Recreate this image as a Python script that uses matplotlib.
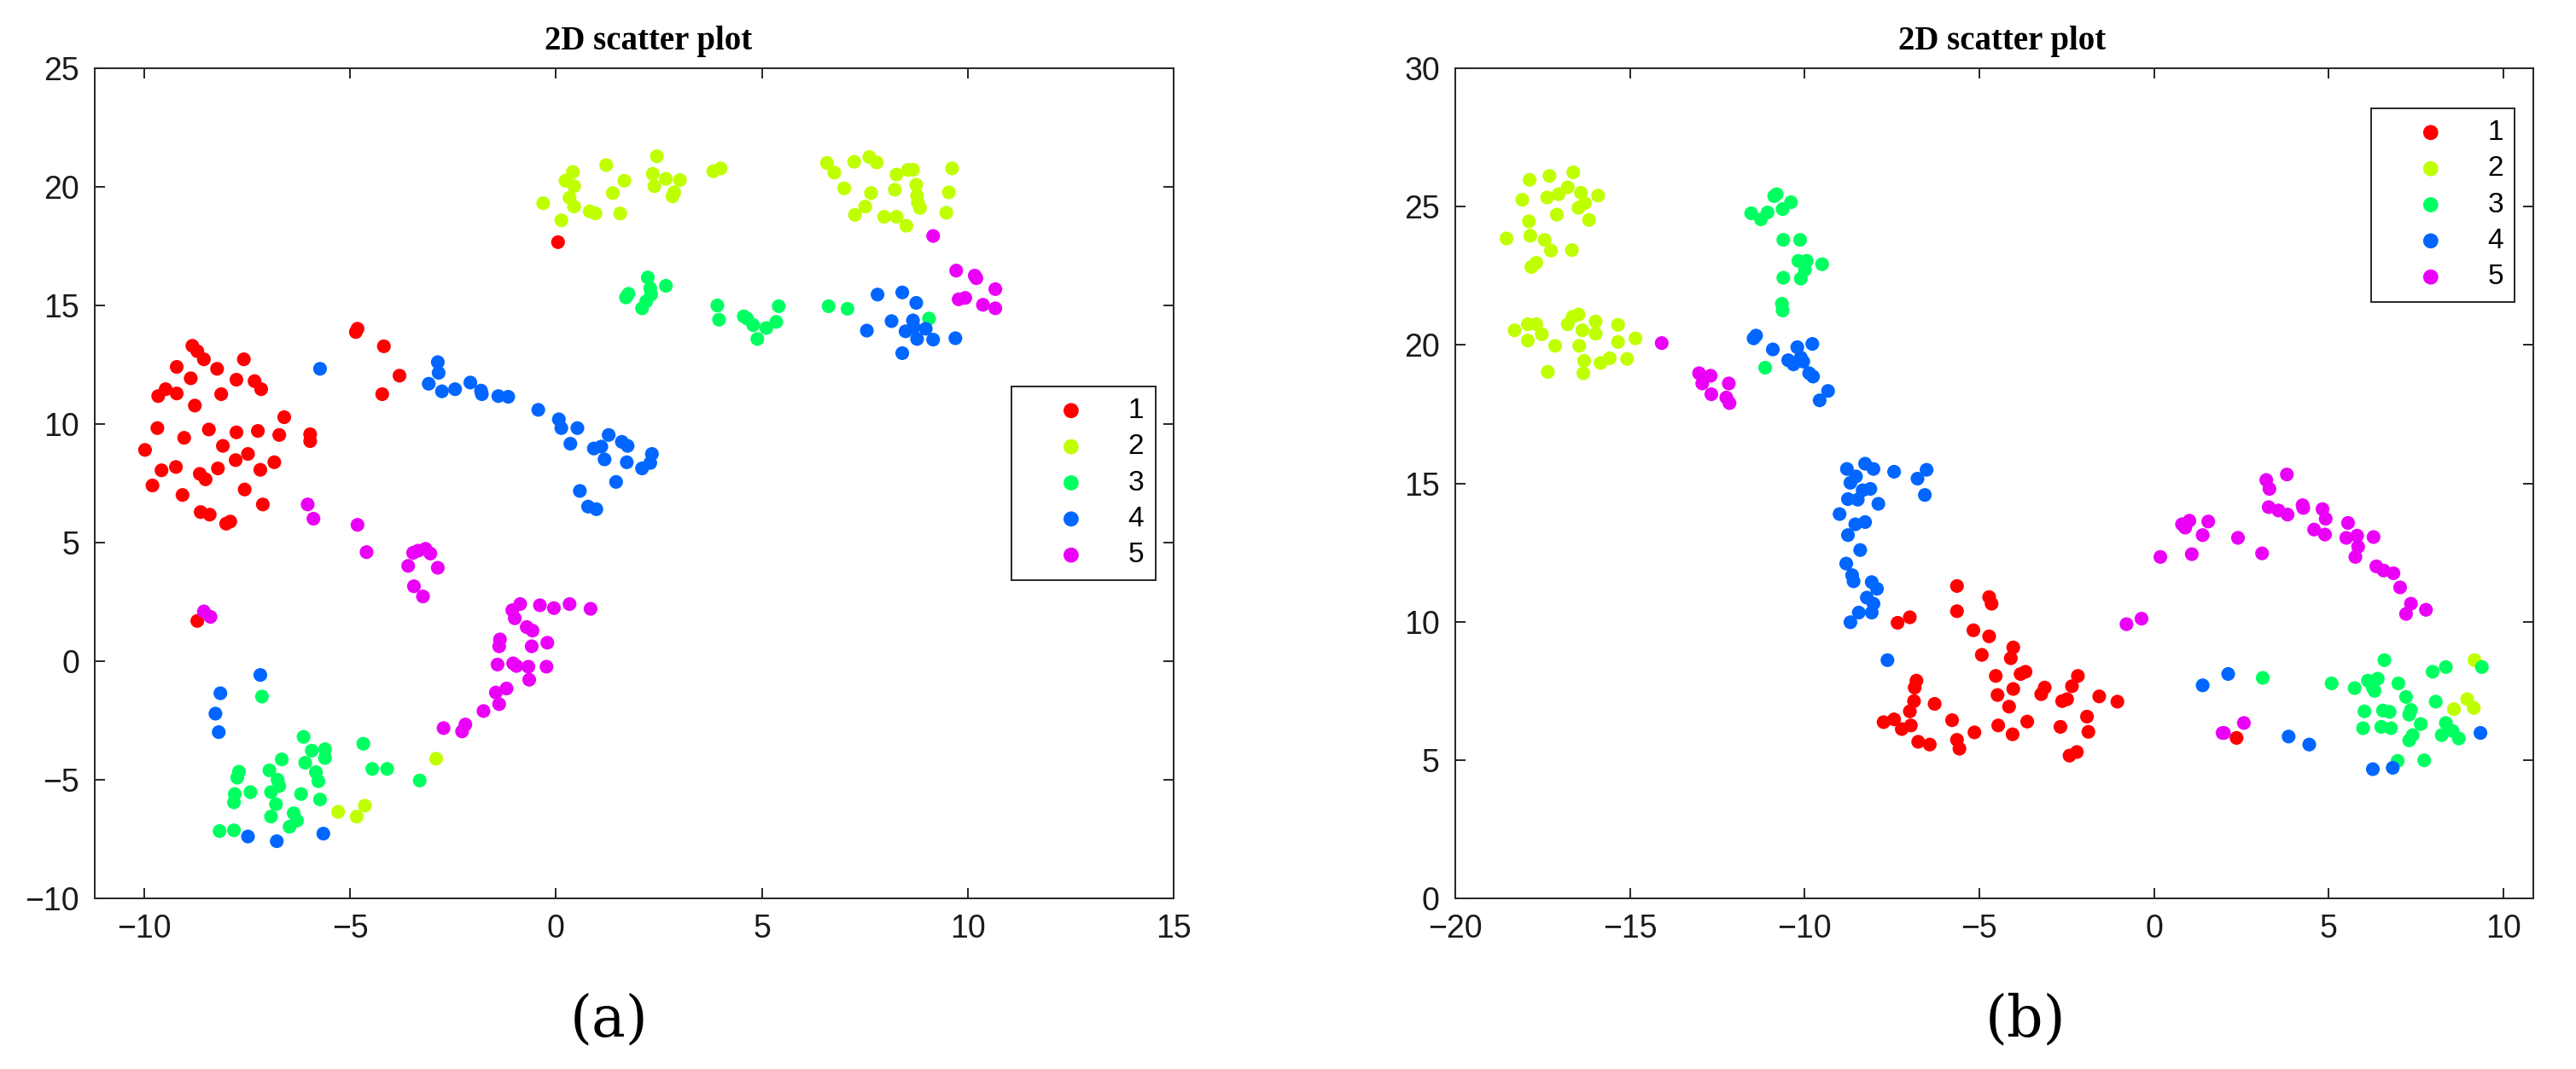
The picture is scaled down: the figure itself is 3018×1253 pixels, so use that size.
import numpy as np
import matplotlib
matplotlib.use('Agg')
import matplotlib.pyplot as plt

# cluster labels and colours (picked from the original figure)
labels = ['1', '2', '3', '4', '5']
colors = [(1, 0, 0), (0.75, 1, 0), (0, 1, 0.38), (0, 0.4, 1), (0.92, 0, 0.97)]

# ---- panel (a) points, one array of (x, y) per cluster ----
a1 = np.array([
    (-9.98, 8.91), (-9.80, 7.41), (-9.68, 9.83), (-9.66, 11.18), (-9.58, 8.05),
    (-9.48, 11.47), (-9.23, 8.19), (-9.21, 12.41), (-9.21, 11.29), (-9.07, 7.01),
    (-9.03, 9.42), (-8.87, 11.93), (-8.83, 13.30), (-8.77, 10.78), (-8.71, 13.07),
    (-8.65, 7.90), (-8.63, 6.29), (-8.55, 12.73), (-8.51, 7.67), (-8.43, 9.77),
    (-8.41, 6.18), (-8.23, 12.33), (-8.21, 8.13), (-8.13, 11.26), (-8.09, 9.08),
    (-8.01, 5.80), (-7.91, 5.89), (-7.78, 8.48), (-7.76, 9.65), (-7.76, 11.87),
    (-7.58, 12.73), (-7.56, 7.24), (-7.48, 8.74), (-7.32, 11.81), (-7.24, 9.71),
    (-7.18, 8.07), (-7.16, 11.47), (-7.12, 6.61), (-6.84, 8.39), (-6.72, 9.54),
    (-6.60, 10.29), (-5.97, 9.57), (-5.97, 9.28), (-4.86, 13.88), (-4.82, 14.02),
    (-4.18, 13.28), (-4.22, 11.26), (-3.80, 12.04), (0.05, 17.67), (-8.71, 1.70)])
a2 = np.array([
    (-0.31, 19.31), (0.13, 18.59), (0.23, 20.26), (0.33, 19.54), (0.41, 20.63),
    (0.44, 20.03), (0.44, 19.17), (0.82, 18.97), (0.96, 18.88), (1.22, 20.92),
    (1.38, 19.74), (1.56, 18.88), (1.66, 20.26), (2.35, 20.55), (2.39, 20.03),
    (2.45, 21.29), (2.67, 20.34), (2.83, 19.60), (2.87, 19.77), (3.01, 20.29),
    (3.82, 20.66), (4.00, 20.78), (6.58, 21.01), (6.76, 20.60), (7.00, 19.94),
    (7.24, 21.06), (7.26, 18.82), (7.51, 19.17), (7.61, 21.26), (7.65, 19.74),
    (7.79, 21.03), (7.97, 18.74), (8.23, 19.88), (8.27, 20.52), (8.27, 18.74),
    (8.51, 18.36), (8.55, 20.72), (8.67, 20.72), (8.75, 20.09), (8.77, 19.63),
    (8.79, 19.34), (8.84, 19.11), (9.48, 18.91), (9.54, 19.77), (9.62, 20.78),
    (-5.29, -6.35), (-4.84, -6.55), (-4.64, -6.09), (-2.91, -4.11)])
a3 = np.array([
    (1.70, 15.34), (1.76, 15.49), (2.09, 14.88), (2.19, 15.17), (2.23, 16.18),
    (2.29, 15.72), (2.31, 15.46), (2.67, 15.83), (3.92, 15.00), (3.96, 14.40),
    (4.56, 14.54), (4.64, 14.45), (4.79, 14.17), (4.89, 13.59), (5.11, 14.05),
    (5.35, 14.31), (5.41, 14.97), (6.62, 14.97), (7.08, 14.86), (9.06, 14.45),
    (-8.17, -7.16), (-7.82, -7.13), (-7.82, -5.95), (-7.80, -5.60), (-7.74, -4.91),
    (-7.70, -4.66), (-7.42, -5.52), (-6.96, -4.60), (-6.92, -5.52), (-6.92, -6.55),
    (-6.80, -6.03), (-6.76, -5.00), (-6.72, -5.26), (-6.66, -4.14), (-6.47, -6.98),
    (-6.37, -6.41), (-6.29, -6.72), (-6.19, -5.60), (-6.13, -3.19), (-6.09, -4.28),
    (-5.93, -3.77), (-5.83, -4.68), (-5.77, -5.06), (-5.73, -5.83), (-5.61, -3.71),
    (-5.61, -4.08), (-4.68, -3.48), (-4.46, -4.54), (-4.10, -4.54), (-3.31, -5.03),
    (-7.14, -1.49)])
a4 = np.array([
    (-5.73, 12.33), (-3.09, 11.70), (-2.87, 12.61), (-2.85, 12.16), (-2.77, 11.38),
    (-2.45, 11.47), (-2.08, 11.75), (-1.82, 11.41), (-1.80, 11.26), (-1.40, 11.18),
    (-1.16, 11.15), (-0.43, 10.60), (0.07, 10.20), (0.13, 9.83), (0.35, 9.17),
    (0.52, 9.83), (0.92, 8.97), (1.10, 9.05), (1.18, 8.51), (1.28, 9.54),
    (1.46, 7.56), (1.60, 9.25), (1.74, 9.08), (1.72, 8.39), (2.09, 8.13),
    (2.29, 8.36), (2.33, 8.74), (0.58, 7.18), (0.78, 6.52), (0.98, 6.41),
    (7.81, 15.46), (8.41, 15.55), (7.55, 13.94), (8.15, 14.34), (8.41, 12.99),
    (8.49, 13.91), (8.67, 14.37), (8.75, 15.11), (8.77, 13.59), (8.98, 14.02),
    (9.16, 13.56), (9.70, 13.62), (8.69, 14.08),
    (-8.15, -1.35), (-8.27, -2.21), (-8.19, -2.99), (-7.18, -0.58), (-7.48, -7.39),
    (-6.78, -7.59), (-5.65, -7.27)])
a5 = np.array([
    (-6.03, 6.61), (-5.89, 6.01), (-4.82, 5.75), (-4.60, 4.60), (-3.59, 4.02),
    (-3.47, 4.57), (-3.45, 3.16), (-3.35, 4.66), (-3.23, 2.73), (-3.17, 4.74),
    (-3.05, 4.54), (-2.87, 3.94), (-8.55, 2.10), (-8.39, 1.87), (-1.06, 2.15),
    (-1.00, 1.81), (-0.87, 2.41), (-0.71, 1.44), (-0.59, 0.63), (-0.57, 1.29),
    (-0.39, 2.36), (-0.21, 0.78), (-0.05, 2.24), (0.33, 2.41), (0.84, 2.21),
    (-1.36, 0.92), (-1.38, 0.63), (-1.42, -0.14), (-1.04, -0.09), (-0.96, -0.20),
    (-0.67, -0.23), (-0.65, -0.78), (-0.23, -0.23), (-1.46, -1.32), (-1.38, -1.81),
    (-1.20, -1.15), (-1.76, -2.10), (-2.73, -2.82), (-2.28, -2.96), (-2.20, -2.67),
    (9.16, 17.93), (9.72, 16.47), (9.78, 15.26), (9.94, 15.32), (10.17, 16.26),
    (10.21, 16.15), (10.37, 15.03), (10.67, 15.69), (10.67, 14.88)])

# ---- panel (b) points ----
b1 = np.array([
    (-7.34, 9.96), (-6.99, 10.16), (-6.80, 7.87), (-6.85, 7.62), (-6.87, 7.13),
    (-6.99, 6.76), (-6.96, 6.25), (-7.74, 6.37), (-7.44, 6.47), (-7.22, 6.12),
    (-6.75, 5.66), (-6.42, 5.56), (-6.28, 7.03), (-5.78, 6.44), (-5.64, 11.29),
    (-5.64, 10.38), (-5.64, 5.73), (-5.57, 5.41), (-5.17, 9.69), (-5.14, 6.00),
    (-4.93, 8.80), (-4.72, 9.47), (-4.72, 10.89), (-4.65, 10.65), (-4.53, 8.04),
    (-4.48, 7.35), (-4.46, 6.25), (-4.15, 6.93), (-4.10, 8.68), (-4.05, 5.93),
    (-4.03, 7.57), (-4.03, 9.07), (-3.82, 8.11), (-3.68, 8.19), (-3.63, 6.39),
    (-3.23, 7.38), (-3.13, 7.62), (-2.68, 6.20), (-2.63, 7.13), (-2.49, 7.20),
    (-2.42, 5.16), (-2.21, 5.29), (-2.35, 7.67), (-2.18, 8.04), (-1.92, 6.57),
    (-1.88, 6.02), (-1.57, 7.30), (-1.05, 7.11), (2.36, 5.80)])
b2 = np.array([
    (-18.53, 23.85), (-18.08, 25.25), (-17.89, 24.47), (-17.87, 25.97), (-17.85, 23.95),
    (-17.82, 22.82), (-17.68, 22.97), (-17.44, 23.80), (-17.37, 25.33), (-17.30, 26.11),
    (-17.26, 23.41), (-17.09, 24.71), (-17.04, 25.45), (-16.78, 25.70), (-16.66, 23.43),
    (-16.62, 26.24), (-16.47, 24.96), (-16.40, 25.50), (-16.29, 25.13), (-16.17, 24.52),
    (-15.91, 25.40),
    (-18.30, 20.53), (-17.92, 20.75), (-17.92, 20.16), (-17.68, 20.75), (-17.52, 20.39),
    (-17.35, 19.03), (-17.14, 19.97), (-16.78, 20.75), (-16.64, 21.02), (-16.47, 21.10),
    (-16.45, 19.97), (-16.36, 20.53), (-16.31, 19.43), (-16.33, 18.98), (-15.98, 20.41),
    (-15.98, 20.85), (-15.84, 19.35), (-15.58, 19.52), (-15.34, 20.73), (-15.34, 20.11),
    (-15.08, 19.50), (-14.84, 20.24),
    (9.17, 8.61), (8.58, 6.84), (8.96, 7.20), (9.15, 6.88)])
b3 = np.array([
    (-11.53, 24.76), (-11.25, 24.54), (-11.06, 24.79), (-10.87, 25.38), (-10.80, 25.45),
    (-10.63, 24.91), (-10.39, 25.16), (-10.61, 23.80), (-10.13, 23.80), (-10.18, 23.04),
    (-9.94, 23.04), (-9.50, 22.92), (-10.61, 22.43), (-10.11, 22.40), (-9.99, 22.72),
    (-10.65, 21.49), (-10.63, 21.25), (-11.13, 19.18),
    (3.11, 7.97), (5.08, 7.77), (5.74, 7.60), (6.02, 6.76), (5.98, 6.15),
    (6.12, 7.87), (6.26, 7.62), (6.31, 7.50), (6.40, 7.94), (6.55, 6.79),
    (6.59, 8.61), (6.50, 6.20), (6.74, 6.74), (6.78, 6.15), (6.99, 7.77),
    (7.21, 7.28), (7.30, 6.64), (7.35, 6.81), (7.30, 5.71), (7.40, 5.90),
    (7.63, 6.30), (6.97, 4.97), (7.73, 4.99), (7.97, 8.19), (8.06, 7.11),
    (8.23, 5.90), (8.35, 8.36), (8.35, 6.34), (8.54, 6.05), (8.72, 5.78),
    (9.38, 8.36)])
b4 = np.array([
    (-11.46, 20.24), (-11.39, 20.34), (-10.91, 19.84), (-10.47, 19.45), (-10.32, 19.30),
    (-10.21, 19.92), (-10.11, 19.55), (-10.04, 19.40), (-9.87, 18.98), (-9.78, 20.04),
    (-9.76, 18.86), (-9.57, 18.00), (-9.33, 18.34),
    (-8.79, 15.52), (-8.69, 15.02), (-8.53, 15.25), (-8.48, 14.41), (-8.34, 14.75),
    (-8.27, 15.71), (-8.12, 14.80), (-8.03, 15.52), (-9.00, 13.89), (-8.76, 14.43),
    (-8.55, 13.52), (-8.27, 13.60), (-7.89, 14.26), (-7.44, 15.42), (-6.77, 15.17),
    (-6.51, 15.49), (-6.56, 14.58), (-8.76, 13.13), (-8.41, 12.59), (-8.81, 12.10),
    (-8.64, 11.68), (-8.60, 11.46), (-8.08, 11.43), (-7.93, 11.19), (-8.22, 10.87),
    (-8.03, 10.65), (-8.45, 10.33), (-8.08, 10.33), (-8.69, 9.98), (-7.63, 8.61),
    (1.39, 7.70), (2.12, 8.11), (3.85, 5.85), (4.44, 5.56), (6.26, 4.67),
    (6.83, 4.72), (9.34, 5.98)])
b5 = np.array([
    (-14.09, 20.07), (-13.02, 18.98), (-12.93, 18.61), (-12.69, 18.89), (-12.67, 18.22),
    (-12.24, 18.10), (-12.17, 18.61), (-12.15, 17.90), (-0.79, 9.91), (-0.36, 10.11),
    (0.18, 12.34), (0.80, 13.52), (0.89, 13.40), (1.01, 13.65), (1.08, 12.44),
    (1.39, 13.13), (1.55, 13.62), (2.40, 13.03), (3.09, 12.47), (3.21, 15.12),
    (3.30, 14.80), (3.28, 14.14), (3.56, 14.02), (3.80, 15.32), (3.82, 13.87),
    (4.25, 14.21), (4.27, 14.11), (4.58, 13.33), (4.82, 14.07), (4.89, 13.15),
    (4.91, 13.72), (5.55, 13.57), (5.50, 13.03), (5.76, 12.34), (5.81, 13.11),
    (5.84, 12.71), (6.28, 13.06), (6.36, 12.00), (6.57, 11.85), (6.85, 11.75),
    (7.04, 11.24), (7.21, 10.28), (7.35, 10.65), (7.78, 10.43), (2.00, 5.98),
    (2.57, 6.34), (1.96, 5.98)])

panels = [
    dict(groups=[a1, a2, a3, a4, a5], xlim=(-11.2, 15), ylim=(-10, 25),
         xticks=np.arange(-10, 16, 5), yticks=np.arange(-10, 26, 5),
         legend_anchor=(0.983, 0.617), tag='(a)', tag_x=0.2363, title_x=0.513),
    dict(groups=[b1, b2, b3, b4, b5], xlim=(-20, 10.85), ylim=(0, 30),
         xticks=np.arange(-20, 11, 5), yticks=np.arange(0, 31, 5),
         legend_anchor=(0.983, 0.952), tag='(b)', tag_x=0.7863, title_x=0.507),
]

edge = '#262626'
fig = plt.figure(figsize=(30.18, 12.53), dpi=100)
axes_rects = [[0.0368, 0.1596, 0.4188, 0.7765], [0.5649, 0.1596, 0.4185, 0.7765]]

for rect, p in zip(axes_rects, panels):
    ax = fig.add_axes(rect)
    for pts, c, lab in zip(p['groups'], colors, labels):
        ax.scatter(pts[:, 0], pts[:, 1], s=135, color=c, label=lab,
                   edgecolors='none', zorder=3)
    ax.set_xlim(p['xlim'])
    ax.set_ylim(p['ylim'])
    ax.set_xticks(p['xticks'])
    ax.set_yticks(p['yticks'])
    ax.tick_params(direction='in', length=8.5, width=1.4, color=edge,
                   top=True, right=True, labelsize=27, pad=13,
                   labelcolor='#1a1a1a')
    for lbl in ax.get_xticklabels() + ax.get_yticklabels():
        lbl.set_fontfamily('Liberation Sans')
    for s in ax.spines.values():
        s.set_color(edge)
        s.set_linewidth(1.4)
    ax.set_title('2D scatter plot', x=p['title_x'], pad=16,
                 fontfamily='Liberation Serif', fontweight='bold', fontsize=28)
    leg = ax.legend(loc='upper right', bbox_to_anchor=p['legend_anchor'],
                    borderaxespad=0, fancybox=False, framealpha=1,
                    prop={'family': 'Liberation Sans', 'size': 24},
                    handlelength=3.4, handletextpad=0.3, labelspacing=0.34,
                    borderpad=0.4, scatterpoints=1, markerscale=1.1)
    leg.get_frame().set_edgecolor(edge)
    leg.get_frame().set_linewidth(1.4)
    fig.text(p['tag_x'], 0.046, p['tag'], ha='center', va='center',
             fontfamily='DejaVu Serif', fontsize=48)

fig.savefig('out.png', dpi=100)
